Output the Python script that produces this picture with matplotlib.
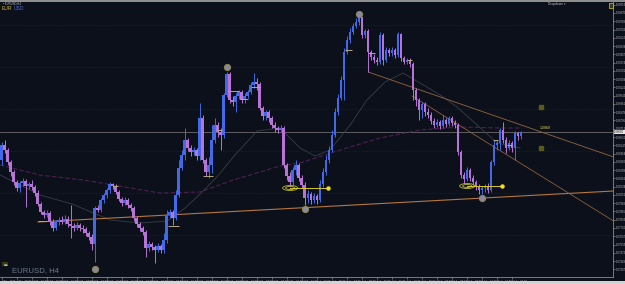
import matplotlib
matplotlib.use("Agg")
import matplotlib.pyplot as plt
import numpy as np
from matplotlib.patches import Ellipse, Rectangle
from matplotlib.ticker import FixedLocator, FormatStrFormatter

# EURUSD H4 bars, prices in units of 0.0001
first_open = 10840
closes = [
    10855, 10850, 10838, 10828, 10818, 10812, 10817, 10819, 10814, 10816,
    10813, 10807, 10796, 10788, 10785, 10787, 10778, 10772, 10778, 10780,
    10778, 10781, 10776, 10774, 10772, 10775, 10772, 10771, 10767, 10763,
    10756, 10792, 10790, 10800, 10805, 10810, 10816, 10814, 10808, 10801,
    10797, 10800, 10795, 10792, 10782, 10776, 10772, 10768, 10752, 10756,
    10753, 10750, 10754, 10750, 10760, 10785, 10788, 10782, 10805, 10832,
    10845, 10860, 10852, 10848, 10850, 10844, 10882, 10840, 10828, 10835,
    10860, 10875, 10868, 10865, 10905, 10926, 10900, 10898, 10904, 10908,
    10900, 10904, 10908, 10915, 10918, 10916, 10892, 10884, 10888, 10882,
    10875, 10872, 10870, 10872, 10835, 10824, 10818, 10830, 10835, 10822,
    10815, 10802, 10806, 10800, 10804, 10800, 10816, 10828, 10840, 10850,
    10865, 10888, 10902, 10920, 10948, 10960, 10968, 10974, 10978, 10983,
    10965, 10969, 10948, 10943, 10940, 10938, 10965, 10940, 10950, 10947,
    10950, 10945, 10966, 10942, 10938, 10940, 10936, 10910, 10900, 10890,
    10896, 10888, 10885, 10879, 10875, 10878, 10874, 10880, 10876, 10882,
    10877, 10875, 10848, 10825, 10821, 10830, 10822, 10818, 10813, 10810,
    10812, 10814, 10810, 10838, 10855, 10857, 10870, 10860, 10852, 10857,
    10852, 10867, 10864, 10868,
]
highs = [
    10858, 10860, 10852, 10840, 10830, 10820, 10819, 10822, 10821, 10818,
    10820, 10815, 10810, 10798, 10790, 10790, 10789, 10781, 10780, 10783,
    10784, 10785, 10784, 10795, 10777, 10778, 10777, 10775, 10773, 10769,
    10766, 10794, 10795, 10802, 10807, 10812, 10818, 10817, 10816, 10810,
    10803, 10803, 10802, 10797, 10794, 10784, 10778, 10774, 10770, 10759,
    10758, 10755, 10757, 10756, 10767, 10790, 10791, 10790, 10810, 10840,
    10850, 10872, 10862, 10855, 10853, 10852, 10897, 10885, 10842, 10843,
    10875, 10882, 10878, 10872, 10907, 10928, 10928, 10904, 10907, 10910,
    10910, 10907, 10910, 10918, 10927, 10922, 10918, 10894, 10890, 10890,
    10884, 10878, 10874, 10875, 10874, 10837, 10828, 10833, 10840, 10837,
    10825, 10818, 10810, 10808, 10807, 10806, 10820, 10832, 10845, 10854,
    10870, 10892, 10906, 10924, 10952, 10964, 10972, 10977, 10982, 10982,
    10982, 10971, 10971, 10950, 10946, 10943, 10968, 10967, 10953, 10952,
    10953, 10952, 10968, 10967, 10944, 10942, 10942, 10938, 10912, 10902,
    10898, 10898, 10892, 10888, 10882, 10881, 10880, 10885, 10882, 10884,
    10884, 10880, 10877, 10850, 10828, 10833, 10832, 10825, 10820, 10816,
    10814, 10816, 10817, 10840, 10860, 10860, 10872, 10878, 10863, 10860,
    10859, 10869, 10868, 10869,
]
lows = [
    10835, 10847, 10835, 10824, 10815, 10809, 10808, 10814, 10793, 10811,
    10810, 10804, 10794, 10786, 10782, 10783, 10775, 10769, 10770, 10775,
    10776, 10776, 10773, 10762, 10769, 10770, 10769, 10767, 10764, 10760,
    10750, 10738, 10788, 10788, 10797, 10802, 10807, 10811, 10806, 10799,
    10794, 10795, 10792, 10789, 10779, 10773, 10769, 10765, 10743, 10749,
    10750, 10737, 10748, 10747, 10747, 10757, 10782, 10775, 10780, 10803,
    10830, 10840, 10849, 10844, 10845, 10840, 10840, 10837, 10824, 10822,
    10827, 10857, 10863, 10850, 10862, 10903, 10897, 10894, 10888, 10901,
    10897, 10897, 10902, 10906, 10912, 10910, 10890, 10880, 10880, 10878,
    10872, 10868, 10867, 10868, 10832, 10820, 10814, 10815, 10825, 10819,
    10812, 10795, 10797, 10796, 10797, 10796, 10798, 10813, 10825, 10837,
    10848, 10863, 10885, 10900, 10900, 10946, 10957, 10966, 10972, 10975,
    10962, 10962, 10928, 10940, 10937, 10935, 10936, 10935, 10938, 10944,
    10944, 10942, 10943, 10939, 10936, 10936, 10933, 10900, 10894, 10880,
    10882, 10884, 10882, 10876, 10872, 10873, 10871, 10872, 10873, 10874,
    10874, 10872, 10845, 10822, 10817, 10819, 10819, 10815, 10810, 10806,
    10806, 10808, 10807, 10808, 10835, 10850, 10850, 10857, 10847, 10850,
    10848, 10840, 10860, 10861,
]
opens = [first_open] + closes[:-1]

time_labels = [
    "9 May 2023", "9 May 20:00", "10 May 16:00", "11 May 12:00", "12 May 08:00",
    "15 May 04:00", "16 May 00:00", "16 May 20:00", "17 May 16:00", "18 May 12:00",
    "19 May 08:00", "22 May 04:00", "23 May 00:00", "23 May 20:00", "24 May 16:00",
    "25 May 12:00", "26 May 08:00", "29 May 04:00", "30 May 00:00", "30 May 20:00",
    "31 May 16:00", "1 Jun 12:00", "2 Jun 08:00", "5 Jun 04:00", "6 Jun 00:00",
    "6 Jun 20:00", "7 Jun 16:00", "8 Jun 12:00", "9 Jun 08:00", "12 Jun 04:00",
    "13 Jun 00:00", "13 Jun 20:00", "14 Jun 16:00", "15 Jun 12:00", "16 Jun 08:00",
]

# moving averages read at a few bars
ma_fast_bars = [-0.5, 12.8, 23.5, 36.2, 46.2, 55.2, 61.2, 66.2, 71.8, 77.8, 85.2, 92.8,
                99.5, 104.5, 109.5, 116.2, 121.8, 127.8, 133.8, 139.5, 146.2, 151.8,
                158.5, 165.2, 172.8]
ma_fast = [10825, 10805, 10796, 10780, 10777, 10779, 10792, 10806, 10823, 10845, 10869,
           10872, 10852, 10844, 10850, 10875, 10900, 10918, 10927, 10917, 10905, 10893,
           10875, 10857, 10852]
ma_slow_bars = [-0.5, 12.8, 27.2, 37.2, 52.8, 66.2, 77.2, 86.2, 92.8, 99.5, 112.8, 126.2,
                139.5, 152.8, 166.2, 172.8]
ma_slow = [10835, 10825, 10820, 10815, 10807, 10808, 10820, 10828, 10834, 10837, 10850,
           10862, 10870, 10873, 10872, 10872]

# trendlines (bar, price)
support_line = [(12.2, 10778), (204, 10809)]
resist_a = [(122.2, 10928), (204, 10843)]
resist_b = [(136.8, 10904), (204, 10779)]
current_price = 10868

# swing markers
pivot_bars = [31, 75, 101, 119, 160]
pivot_prices = [10731, 10933, 10791, 10986, 10802]

# double-bottom ellipses with arrows
ellipse_bars = [96.2, 155.2]
ellipse_prices = [10812, 10814]
arrow_end_bars = [108.8, 166.8]

# short level marks
level_start = [12.2, 37.2, 55.5, 67.2, 71.8, 75.8, 79.5, 83.0, 114.5, 122.2, 135.2, 163.8, 168.5]
level_end = [15.2, 38.8, 59.0, 70.5, 73.5, 79.0, 82.2, 86.0, 116.8, 124.5, 136.8, 165.5, 170.2]
level_price = [10779, 10814, 10774, 10824, 10870, 10909, 10901, 10913, 10950, 10947, 10940,
               10860, 10855]

BG = "#0c101b"
BULL = "#4169e8"
BEAR = "#b873d6"
W, H = 625, 284


def fx(px):
    return px / W


def fy(py):
    return 1 - py / H


fig = plt.figure(figsize=(6.25, 2.84), dpi=100, facecolor=BG)
ax = fig.add_axes([0, fy(277), fx(613), fy(2) - fy(277)], facecolor=BG)

o = np.array(opens) / 1e4
c = np.array(closes) / 1e4
hi = np.array(highs) / 1e4
lo = np.array(lows) / 1e4
idx = np.arange(len(c))
bull = c >= o
cols = np.where(bull, BULL, BEAR)

# grid
for g in np.arange(1.0765, 1.0980, 0.0042):
    ax.axhline(g, color="#252b3a", lw=0.5, ls=(0, (1, 2)), zorder=0)

ax.axhline(current_price / 1e4, color="#6c6c6c", lw=0.6, zorder=1)

ax.plot(ma_slow_bars, np.array(ma_slow) / 1e4, color="#4e2050", lw=0.8, ls=(0, (4, 2)), zorder=1)
ax.plot(ma_fast_bars, np.array(ma_fast) / 1e4, color="#363e48", lw=0.6, zorder=1)

for line, col, lw in [(support_line, "#b5773c", 0.8), (resist_a, "#94663c", 0.6),
                      (resist_b, "#8a5e3a", 0.6)]:
    xs, ys = zip(*line)
    ax.plot(xs, np.array(ys) / 1e4, color=col, lw=lw, zorder=2)

ax.vlines(idx, lo, hi, colors=cols, lw=0.7, zorder=3)
body = np.maximum(np.abs(c - o), 0.00008)
ax.bar(idx, body, bottom=np.minimum(o, c), width=0.7, color=cols, lw=0, zorder=3)

ax.hlines(np.array(level_price) / 1e4, level_start, level_end, colors="#b8a888", lw=0.7, zorder=4)

for b, p, e in zip(ellipse_bars, ellipse_prices, arrow_end_bars):
    for sc in (1.0, 0.6):
        ax.add_patch(Ellipse((b, p / 1e4), 5 * sc, 0.0005 * sc, fill=False,
                             ec="#b8b830", lw=0.6, zorder=5))
    ax.plot([b, e], [p / 1e4, p / 1e4], color="#d8c828", lw=0.7, zorder=5)
    ax.plot([e], [p / 1e4], "o", color="#f0e020", ms=2.2, zorder=5)

ax.plot(pivot_bars, np.array(pivot_prices) / 1e4, "o", ms=4.5, mfc="#8a86aa", mec="#8c8a44",
        mew=0.7, zorder=6)

ax.plot([179.8, 179.8], [1.0893, 1.0852], "s", ms=2.2, color="#5a5a18", zorder=5)
ax.text(179.5, 1.0870, "1.0868", color="#d8d850", fontsize=2.6, va="bottom", ha="left",
        family="Liberation Sans")

ax.set_xlim(-0.5, 203.8)
ax.set_ylim(1.0723, 1.0998)

for s in ["top", "left"]:
    ax.spines[s].set_visible(False)
for s in ["right", "bottom"]:
    ax.spines[s].set_color("#8a8a8a")
    ax.spines[s].set_linewidth(0.6)

ax.yaxis.tick_right()
ax.yaxis.set_major_locator(FixedLocator(np.arange(10995.3, 10724, -8.27) / 1e4))
ax.yaxis.set_major_formatter(FormatStrFormatter("%.5f"))
ax.tick_params(axis="y", labelsize=2.0, colors="#b8b8b8", length=1.2, width=0.4, pad=0.6)

ax.set_xticks(np.arange(len(time_labels)) * 5)
ax.set_xticklabels(time_labels, ha="left")
ax.tick_params(axis="x", labelsize=1.8, colors="#b8b8b8", length=1.2, width=0.4, pad=0.8)
for t in ax.get_xticklabels() + ax.get_yticklabels():
    t.set_family("Liberation Sans")

ax.text(1.002, current_price / 1e4, "1.08680", transform=ax.get_yaxis_transform(),
        fontsize=2.0, color="#111111", va="center", ha="left", family="Liberation Sans",
        bbox=dict(boxstyle="square,pad=0.15", fc="#e6e6e6", ec="none"), zorder=10)

# chart window decorations
fig.add_artist(Rectangle((0, fy(2)), 1, 2 / H, transform=fig.transFigure, color="#8e8e8e", lw=0))
fig.add_artist(Rectangle((0, 0), 1, 3 / H, transform=fig.transFigure, color="#d2d2d2", lw=0))
fig.add_artist(Rectangle((fx(2), fy(266)), 6 / W, 4 / H, transform=fig.transFigure,
                         color="#3a3a1a", lw=0))
fig.text(fx(3.5), fy(264.5), "▪▪", fontsize=2.5, color="#c8c8a0", va="center")
fig.text(fx(3), fy(3.2), "• EURUSD,H4", fontsize=2.0, color="#c0c0c0", va="center",
         family="Liberation Sans")
fig.text(fx(2), fy(8.5), "EUR", fontsize=3.6, color="#c8b41e", va="center",
         family="Liberation Sans")
fig.text(fx(13.5), fy(8.5), "USD", fontsize=3.6, color="#4a68d0", va="center",
         family="Liberation Sans")
fig.text(fx(12), fy(274), "EURUSD, H4", fontsize=5.6, color="#6e7a8a", va="bottom",
         family="Liberation Sans")
fig.text(fx(548), fy(3.5), "Dropdown ▾", fontsize=2.2, color="#c0c0c0", va="center",
         family="DejaVu Sans")
fig.add_artist(Rectangle((fx(608.5), fy(7.5)), 4 / W, 5 / H, transform=fig.transFigure,
                         fc="#3a3a10", ec="#d8c828", lw=0.5))

fig.savefig("out.png", dpi=100, facecolor=BG)
